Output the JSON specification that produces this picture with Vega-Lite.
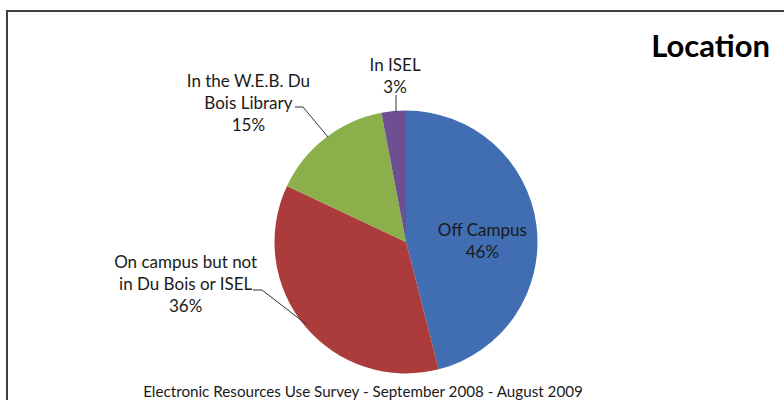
{
  "$schema": "https://vega.github.io/schema/vega-lite/v6.json",
  "autosize": "none",
  "width": 798,
  "height": 462,
  "padding": {"left": 7, "top": 11, "right": -21, "bottom": -73},
  "background": "white",
  "view": {"stroke": "#404040", "strokeWidth": 2},
  "title": {
    "text": "Location",
    "anchor": "end",
    "orient": "top",
    "frame": "group",
    "offset": -77,
    "dx": -35,
    "baseline": "alphabetic",
    "font": "Lato",
    "fontSize": 31,
    "fontWeight": "bold",
    "color": "#000000"
  },
  "datasets": {
    "survey": [
      {"name": "Off Campus", "pct": 46, "rank": 1, "caption": "Off Campus\n46%"},
      {"name": "On campus but not in Du Bois or ISEL", "pct": 36, "rank": 2, "caption": "On campus but not\nin Du Bois or ISEL\n36%"},
      {"name": "In the W.E.B. Du Bois Library", "pct": 15, "rank": 3, "caption": "In the  W.E.B. Du\nBois Library\n15%"},
      {"name": "In ISEL", "pct": 3, "rank": 4, "caption": "In ISEL\n3%"}
    ]
  },
  "layer": [
    {
      "data": {"name": "survey"},
      "encoding": {
        "theta": {"field": "pct", "type": "quantitative", "stack": true},
        "order": {"field": "rank", "type": "quantitative"}
      },
      "layer": [
        {
          "mark": {"type": "arc", "radius": 131.5},
          "encoding": {
            "color": {
              "field": "name",
              "type": "nominal",
              "legend": null,
              "scale": {
                "domain": ["Off Campus", "On campus but not in Du Bois or ISEL", "In the W.E.B. Du Bois Library", "In ISEL"],
                "range": ["#416DB2", "#AC3B3B", "#8BB04B", "#6E4F92"]
              }
            }
          }
        },
        {
          "mark": {"type": "text", "radius": 77, "dy": -1.7, "lineBreak": "\n", "lineHeight": 22, "font": "Lato", "fontSize": 17, "color": "#1a1a1a"},
          "encoding": {"text": {"condition": {"test": "datum.rank === 1", "field": "caption"}, "value": ""}}
        },
        {
          "mark": {"type": "text", "radius": 131.5, "dx": -119, "dy": -63.3, "lineBreak": "\n", "lineHeight": 22, "font": "Lato", "fontSize": 17, "color": "#1a1a1a"},
          "encoding": {"text": {"condition": {"test": "datum.rank === 2", "field": "caption"}, "value": ""}}
        },
        {
          "mark": {"type": "text", "radius": 131.5, "dx": -77, "dy": -56.5, "lineBreak": "\n", "lineHeight": 22, "font": "Lato", "fontSize": 17, "color": "#1a1a1a"},
          "encoding": {"text": {"condition": {"test": "datum.rank === 3", "field": "caption"}, "value": ""}}
        },
        {
          "mark": {"type": "text", "radius": 131.5, "dx": 1.5, "dy": -45, "lineBreak": "\n", "lineHeight": 22, "font": "Lato", "fontSize": 17, "color": "#1a1a1a"},
          "encoding": {"text": {"condition": {"test": "datum.rank === 4", "field": "caption"}, "value": ""}}
        }
      ]
    },
    {
      "data": {"values": [{"note": "leader lines"}]},
      "mark": {
        "type": "point",
        "shape": "M-100,82L-144,48L-153,48M-78,-105L-103,-135L-111,-135M-10,-130L-10,-147",
        "size": 4,
        "filled": false,
        "stroke": "#333333",
        "strokeWidth": 1,
        "opacity": 1
      },
      "encoding": {}
    },
    {
      "data": {"values": [{"footer": "Electronic Resources Use Survey - September 2008 - August 2009"}]},
      "mark": {"type": "text", "dx": -43, "dy": 154.5, "baseline": "alphabetic", "font": "Lato", "fontSize": 15.2, "color": "#1a1a1a"},
      "encoding": {"text": {"field": "footer", "type": "nominal"}}
    }
  ]
}
